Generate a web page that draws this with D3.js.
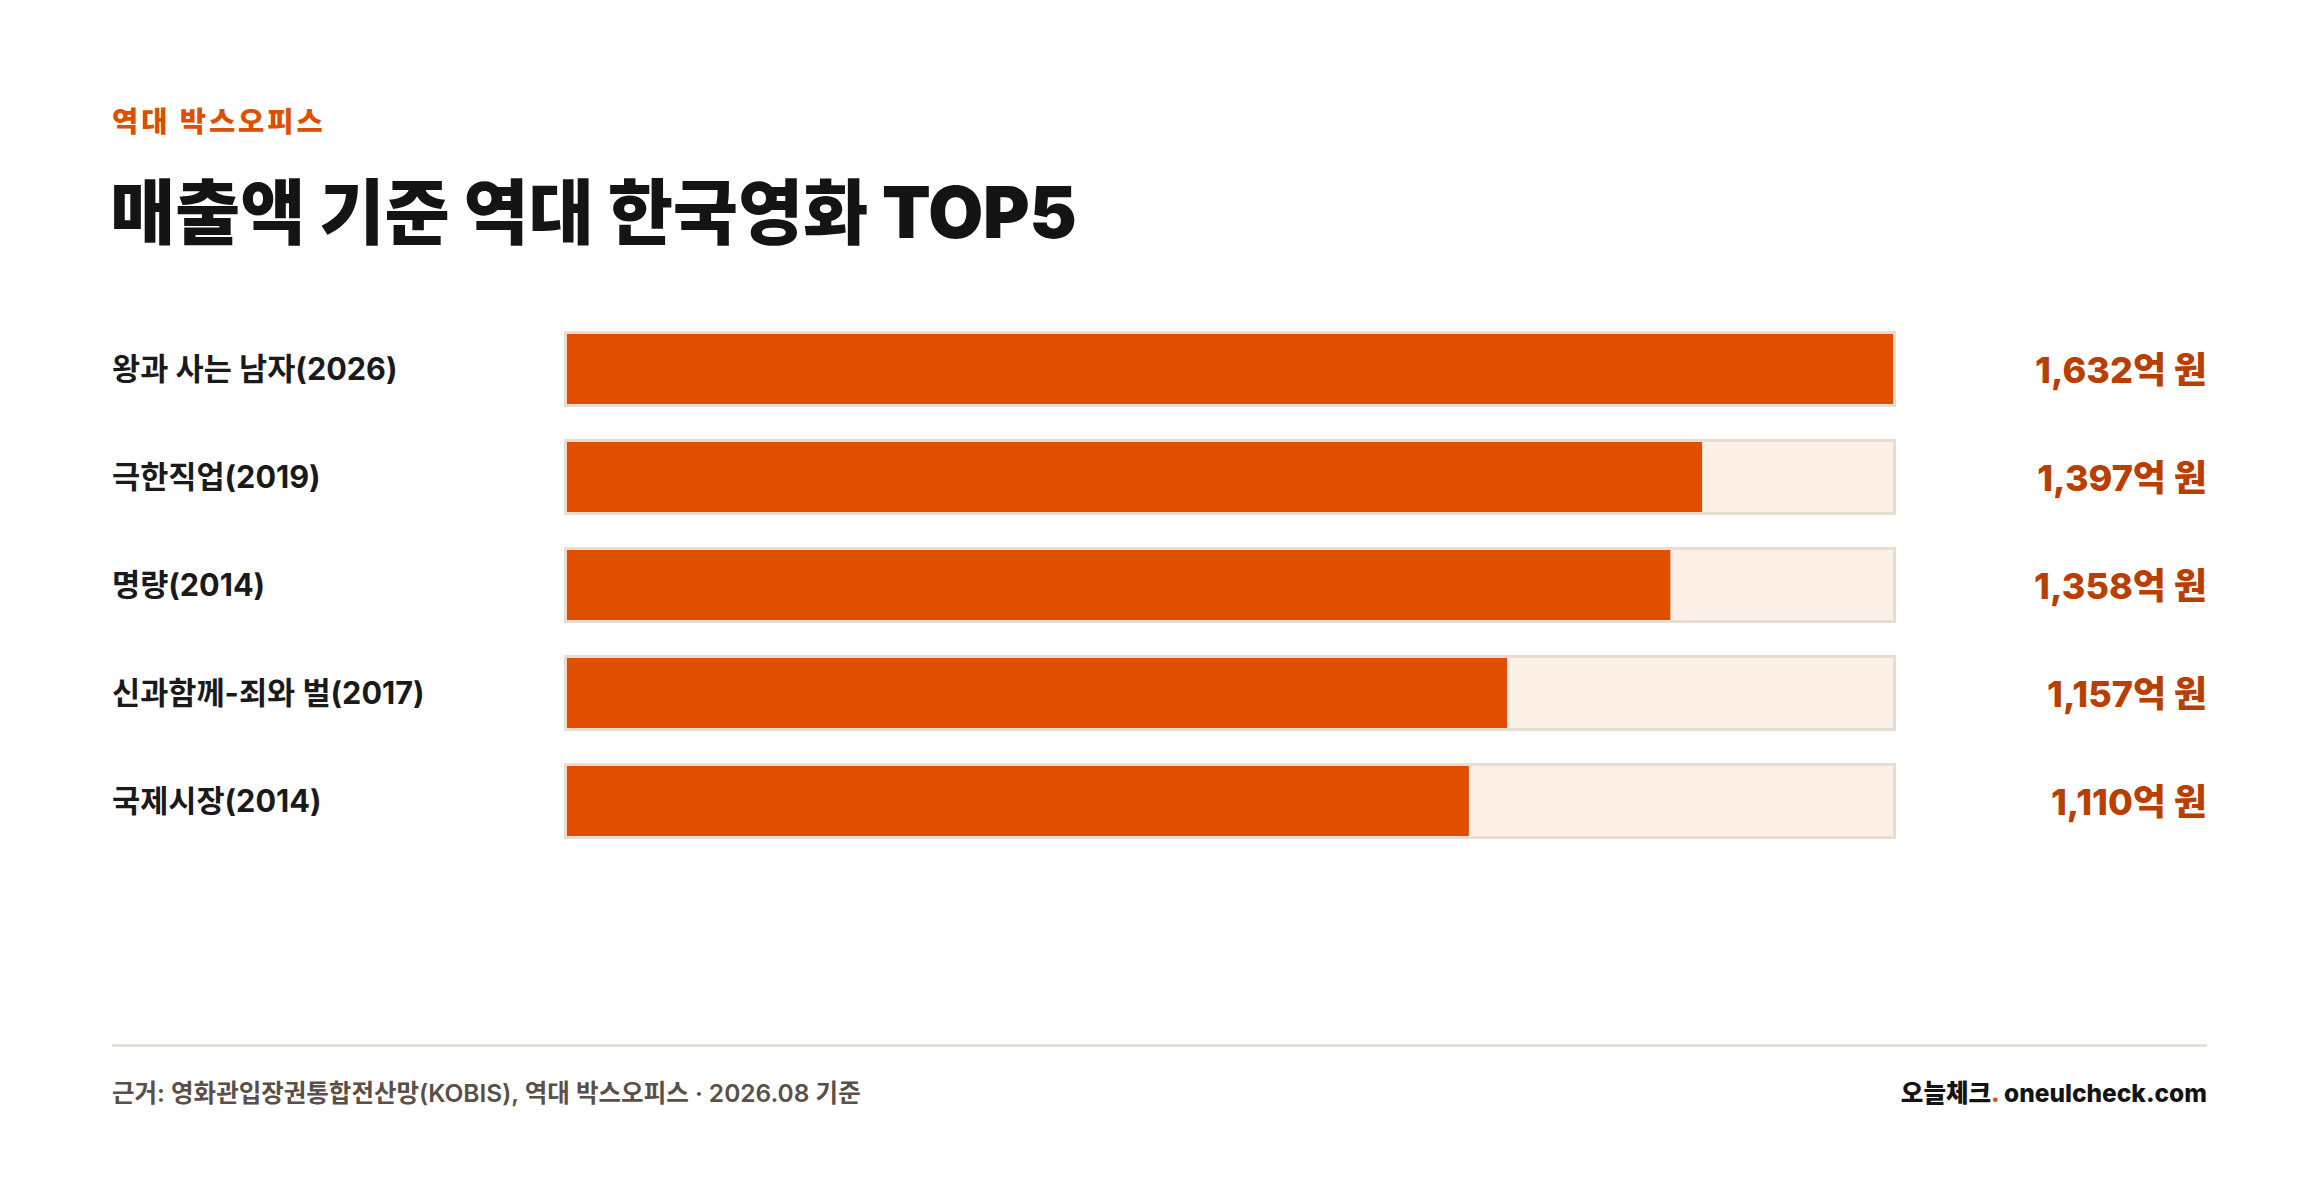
<!DOCTYPE html>
<html lang="ko">
<head>
<meta charset="utf-8">
<script src="https://cdn.jsdelivr.net/npm/d3@7/dist/d3.min.js"></script>
<style>
  html, body { margin: 0; padding: 0; background: #ffffff; }
  svg { display: block; }
  text { font-family: Inter, "Noto Sans CJK KR", "Noto Sans", sans-serif; }
</style>
</head>
<body>
<svg id="chart" width="2320" height="1190"></svg>
<script>
// ---- data ----
const kicker = "역대 박스오피스";
const title = "매출액 기준 역대 한국영화 TOP5";
const movies = ["왕과 사는 남자(2026)", "극한직업(2019)", "명량(2014)", "신과함께-죄와 벌(2017)", "국제시장(2014)"];
const revenues = [1632, 1397, 1358, 1157, 1110]; // 억 원
const unitLabel = "억 원";
const sourceText = "근거: 영화관입장권통합전산망(KOBIS), 역대 박스오피스 · 2026.08 기준";
const brandKo = "오늘체크";
const brandDot = ".";
const brandUrl = " oneulcheck.com";

// ---- layout ----
const W = 2320, H = 1190;
const left = 112, right = 2207;
const trackX0 = 564, trackX1 = 1896, border = 3;
const rowsTop = 331, rowsBottom = 839;

const svg = d3.select("#chart");
svg.append("rect").attr("width", W).attr("height", H).attr("fill", "#ffffff");

svg.append("text")
  .attr("x", left).attr("y", 132)
  .attr("font-size", 28.5).attr("font-weight", 800)
  .attr("letter-spacing", 3)
  .attr("fill", "#e04e00")
  .text(kicker);

svg.append("text")
  .attr("x", left - 2).attr("y", 238)
  .attr("font-size", 71).attr("font-weight", 900)
  .attr("letter-spacing", -0.2)
  .attr("fill", "#141414")
  .text(title);

const y = d3.scaleBand()
  .domain(movies)
  .range([rowsTop, rowsBottom])
  .paddingInner(32 / 108)
  .paddingOuter(0);

const innerX0 = trackX0 + border, innerX1 = trackX1 - border;
const x = d3.scaleLinear()
  .domain([0, d3.max(revenues)])
  .range([0, innerX1 - innerX0]);

const fmt = d3.format(",");
const data = movies.map((m, i) => ({ name: m, value: revenues[i] }));

const rows = svg.append("g").selectAll("g.row")
  .data(data).join("g").attr("class", "row");

// track
rows.append("rect")
  .attr("x", trackX0 + border / 2)
  .attr("y", d => y(d.name) + border / 2)
  .attr("width", trackX1 - trackX0 - border)
  .attr("height", y.bandwidth() - border)
  .attr("fill", "#fdf1e7")
  .attr("stroke", "#e8ddd3")
  .attr("stroke-width", border);

// bar
rows.append("rect")
  .attr("x", innerX0)
  .attr("y", d => y(d.name) + border)
  .attr("width", d => x(d.value))
  .attr("height", y.bandwidth() - 2 * border)
  .attr("fill", "#e04e00");

// label
rows.append("text")
  .attr("x", left)
  .attr("y", d => y(d.name) + y.bandwidth() / 2 + 11)
  .attr("font-size", 30.6).attr("font-weight", 700)
  .attr("fill", "#1a1a1a")
  .text(d => d.name);

// value
rows.append("text")
  .attr("x", right)
  .attr("y", d => y(d.name) + y.bandwidth() / 2 + 14)
  .attr("text-anchor", "end")
  .attr("font-size", 36).attr("font-weight", 800)
  .attr("fill", "#b83f00")
  .text(d => fmt(d.value) + unitLabel);

// divider
svg.append("rect")
  .attr("x", left).attr("y", 1044)
  .attr("width", right - left).attr("height", 3)
  .attr("fill", "#e8dfd7");

// footer
svg.append("text")
  .attr("x", left).attr("y", 1102)
  .attr("font-size", 24.5).attr("font-weight", 600)
  .attr("fill", "#5a5049")
  .text(sourceText);

const brand = svg.append("text")
  .attr("x", right).attr("y", 1102)
  .attr("text-anchor", "end")
  .attr("font-size", 24.5).attr("font-weight", 800)
  .attr("fill", "#141414");
brand.append("tspan").text(brandKo);
brand.append("tspan").attr("fill", "#e04e00").text(brandDot);
brand.append("tspan").text(brandUrl);
</script>
</body>
</html>
